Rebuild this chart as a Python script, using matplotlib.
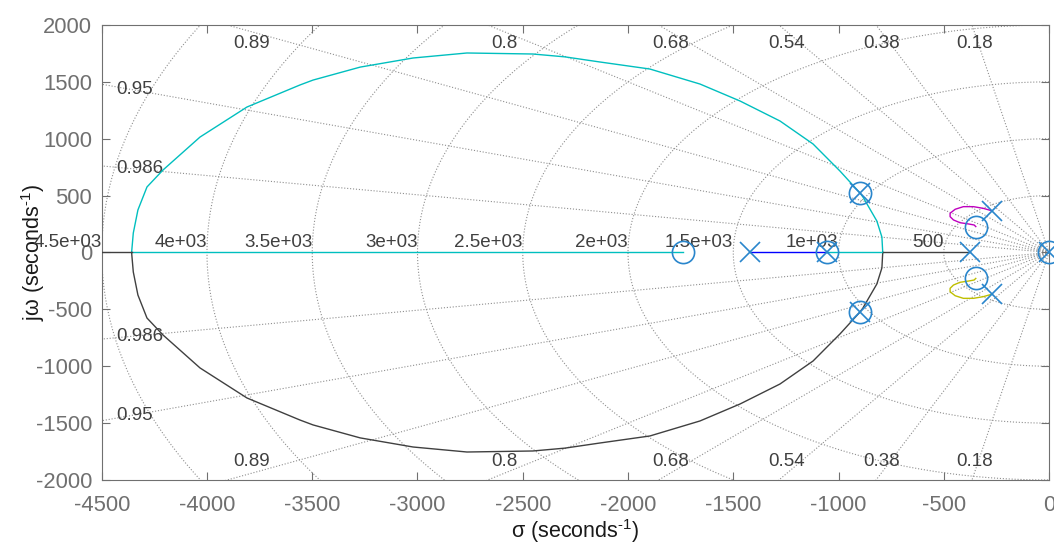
import numpy as np
import matplotlib.pyplot as plt

plt.rcParams['font.family'] = ['Liberation Sans', 'DejaVu Sans']
plt.rcParams['mathtext.fontset'] = 'custom'
plt.rcParams['mathtext.rm'] = 'Liberation Sans'
plt.rcParams['mathtext.default'] = 'regular'
plt.rcParams['axes.unicode_minus'] = False

# open-loop poles and zeros
pole_re = [0, -375, -272, -272, -898, -898, -1054, -1420]
pole_im = [0, 0, 367, -367, 523, -523, 0, 0]
zero_re = [0, -348, -348, -898, -898, -1054, -1738]
zero_im = [0, 228, -228, 523, -523, 0, 0]

# big loop, upper half (lower half is the conjugate branch)
loop_re = [-4358, -4350, -4328, -4285, -4209, -4033, -3810, -3558, -3496, -3272,
           -3021, -2765, -2452, -2300, -2134, -1896, -1658, -1468, -1278, -1121,
           -993, -898, -884, -818, -794, -790]
loop_im = [0, 171, 374, 576, 725, 1015, 1279, 1473, 1516, 1630,
           1710, 1754, 1745, 1720, 1675, 1613, 1481, 1332, 1156, 954,
           716, 523, 488, 277, 136, 0]

# small loop from the upper complex pole to the upper complex zero
small_re = [-272, -312, -359, -407, -446, -470, -470, -454, -423, -383, -356, -348]
small_im = [367, 388, 403, 403, 380, 345, 315, 286, 262, 251, 242, 228]

# real-axis segments of each branch
cyan_real = [(-4358, -1738), (-1054, -790)]
gray_real = [(-4500, -4358), (-790, -375)]
blue_real = [(-1420, -1054)]

# s-plane grid
zeta = [0.986, 0.95, 0.89, 0.8, 0.68, 0.54, 0.38, 0.18]
wn = [500, 1000, 1500, 2000, 2500, 3000, 3500, 4000, 4500]
wn_labels = ['500', '1e+03', '1.5e+03', '2e+03', '2.5e+03', '3e+03',
             '3.5e+03', '4e+03', '4.5e+03']

c_cyan = (0, 0.75, 0.75)
c_gray = (0.25, 0.25, 0.25)
c_blue = (0, 0, 1)
c_mag = (0.75, 0, 0.75)
c_yel = (0.75, 0.75, 0)
c_pz = '#2a86cc'
c_axis = '#707070'
c_grid_txt = '#404040'

fig = plt.figure(figsize=(10.54, 5.46), dpi=100)
ax = fig.add_axes([0.0965, 0.1209, 0.8988, 0.8333])
xmin, xmax, ymin, ymax = -4500, 0, -2000, 2000

grid_kw = dict(color='#8f8f8f', ls=':', lw=0.8, zorder=1)
t = np.linspace(np.pi / 2, 3 * np.pi / 2, 300)
for w in wn:
    ax.plot(w * np.cos(t), w * np.sin(t), **grid_kw)
for z in zeta:
    th = np.arccos(z)
    r = np.array([0, 9000])
    ax.plot(-r * z, r * np.sin(th), **grid_kw)
    ax.plot(-r * z, -r * np.sin(th), **grid_kw)

    slope = np.tan(th)
    if -xmin * slope < ymax:
        yy = 0.97 * (-xmin) * slope
        for s in (1, -1):
            ax.text(xmin + 70, s * yy, '%g' % z, ha='left', va='center',
                    fontsize=13.5, color=c_grid_txt, zorder=2)
    else:
        xx = 0.97 * (-ymax / slope)
        for s in (1, -1):
            ax.text(xx, s * 1840, '%g' % z, ha='center', va='center',
                    fontsize=13.5, color=c_grid_txt, zorder=2)

for w, lab in zip(wn, wn_labels):
    ax.text(-w, 48, lab, ha='right', va='baseline', fontsize=13.5,
            color=c_grid_txt, zorder=2)

# root locus branches
lw = 1.0
ax.plot(loop_re, loop_im, color=c_cyan, lw=lw, zorder=3)
ax.plot(loop_re, -np.array(loop_im), color=c_gray, lw=lw, zorder=3)
for a, b in cyan_real:
    ax.plot([a, b], [0, 0], color=c_cyan, lw=lw, zorder=3)
for a, b in gray_real:
    ax.plot([a, b], [0, 0], color=c_gray, lw=lw, zorder=3)
for a, b in blue_real:
    ax.plot([a, b], [0, 0], color=c_blue, lw=lw, zorder=3)
ax.plot(small_re, small_im, color=c_mag, lw=lw, zorder=3)
ax.plot(small_re, -np.array(small_im), color=c_yel, lw=lw, zorder=3)

# poles and zeros
ax.plot(pole_re, pole_im, 'x', color=c_pz, ms=14, mew=1.2, zorder=4,
        clip_on=False)
ax.plot(zero_re, zero_im, 'o', mfc='none', mec=c_pz, ms=16, mew=1.2,
        zorder=4, clip_on=False)

ax.set_xlim(xmin, xmax)
ax.set_ylim(ymin, ymax)
ax.set_xticks(np.arange(-4500, 1, 500))
ax.set_yticks(np.arange(-2000, 2001, 500))
ax.tick_params(direction='in', top=True, right=True, length=6, width=0.8,
               colors=c_axis, labelsize=15.8)
ax.tick_params(axis='x', pad=10.5)
ax.tick_params(axis='y', pad=7)
for sp in ax.spines.values():
    sp.set_color(c_axis)
    sp.set_linewidth(0.8)

ax.set_xlabel(r'σ (seconds$^{\text{-}1}$)', fontsize=15.5, color='#1a1a1a')
ax.set_ylabel(r'jω (seconds$^{\text{-}1}$)', fontsize=15.5, color='#1a1a1a')
ax.xaxis.set_label_coords(0.5, -0.081)
ax.yaxis.set_label_coords(-0.058, 0.5)

fig.savefig('out.png', dpi=100)
